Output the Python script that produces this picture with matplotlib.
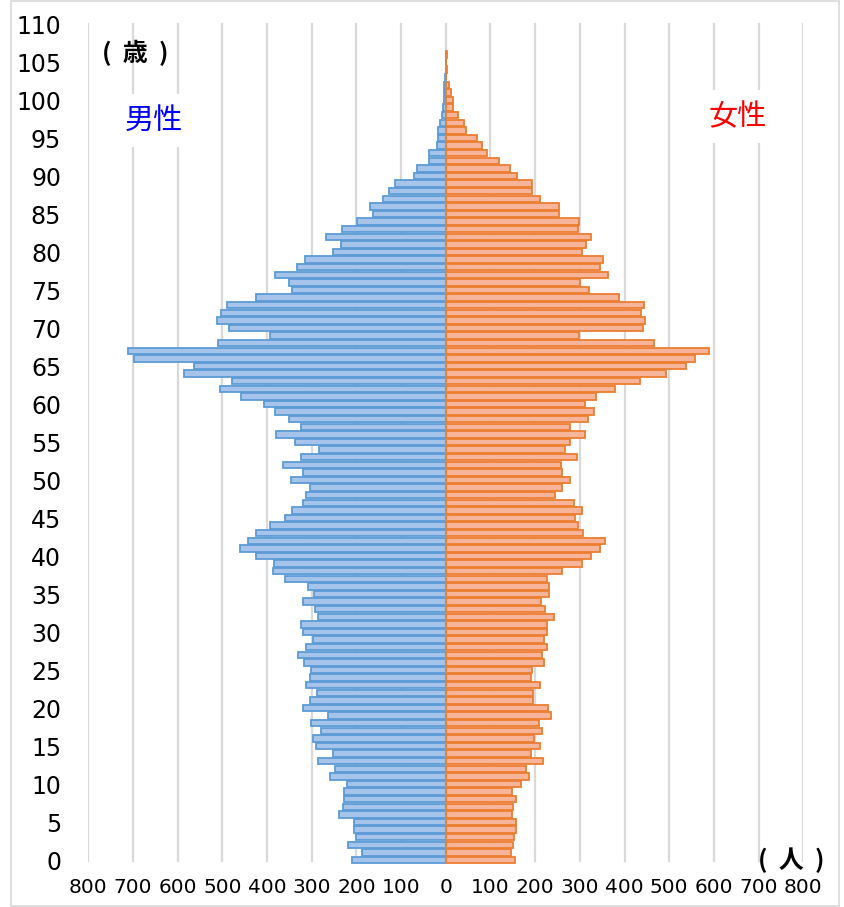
import matplotlib.pyplot as plt
import numpy as np
from matplotlib.patches import Rectangle

# population by single year of age, 0..106
ages = list(range(0, 107))
male = [209, 188, 218, 201, 205, 205, 239, 229, 227, 227,
        222, 259, 249, 287, 252, 290, 298, 280, 302, 263,
        319, 304, 289, 313, 305, 302, 317, 330, 313, 298,
        320, 324, 287, 293, 320, 294, 308, 360, 386, 384,
        425, 461, 442, 425, 393, 360, 345, 320, 313, 304,
        347, 319, 365, 324, 284, 338, 380, 324, 351, 383,
        406, 458, 505, 479, 585, 563, 697, 711, 509, 393,
        485, 511, 503, 490, 425, 345, 350, 382, 332, 315,
        252, 235, 269, 233, 199, 164, 169, 140, 128, 113,
        72, 65, 37, 38, 19, 17, 17, 13, 9, 7,
        5, 4, 3, 1, 0, 0, 0]
female = [155, 146, 151, 152, 157, 157, 149, 150, 157, 149,
          169, 186, 180, 217, 190, 211, 198, 216, 209, 236,
          228, 195, 195, 210, 191, 193, 220, 215, 226, 220,
          226, 226, 242, 222, 213, 232, 232, 226, 261, 304,
          325, 344, 357, 308, 295, 289, 304, 287, 245, 261,
          278, 260, 258, 293, 267, 277, 312, 278, 319, 332,
          312, 336, 378, 434, 493, 537, 557, 588, 467, 297,
          442, 446, 437, 444, 388, 321, 301, 364, 345, 351,
          304, 313, 325, 295, 297, 254, 254, 211, 192, 192,
          160, 144, 119, 92, 81, 69, 45, 41, 28, 17,
          16, 11, 7, 1, 2, 1, 2]

xticks = list(range(-800, 801, 100))
yticks = list(range(0, 111, 5))

cjk = ['Noto Sans CJK JP', 'DejaVu Sans']

fig = plt.figure(figsize=(8.45, 9.07), dpi=100)
# outer chart frame
fig.patches.append(Rectangle((11 / 845, 1 / 907), 828 / 845, 905 / 907,
                             transform=fig.transFigure, fill=False,
                             edgecolor='#d9d9d9', lw=1.2))

ax = fig.add_axes([88.3 / 845, (907 - 863.8) / 907, 715 / 845, 843.6 / 907])
ax.set_xlim(-800, 800)
ax.set_ylim(-0.5, 110.5)

for t in xticks:
    ax.plot([t, t], [-0.1, 110], color='#d9d9d9', lw=1.6, zorder=0)

ax.barh(ages, [-m for m in male], height=0.86, color='#a6c4ea',
        edgecolor='#5b9bd5', linewidth=1.3, zorder=2)
ax.barh(ages, female, height=0.86, color='#f6b59a',
        edgecolor='#ed7d31', linewidth=1.3, zorder=2)

ax.set_xticks(xticks)
ax.set_xticklabels([str(abs(t)) for t in xticks], fontsize=14.5)
ax.set_yticks(yticks)
ax.set_yticklabels([str(t) for t in yticks], fontsize=17)
ax.tick_params(axis='y', length=0, pad=19.5)
ax.tick_params(axis='x', length=0, pad=10)
for s in ax.spines.values():
    s.set_visible(False)

ax.text(-695, 106.2, '(  歳  )', family=cjk, fontsize=18, fontweight='bold',
        ha='center', va='center')
ax.text(-653, 97.3, '男性', family=cjk, fontsize=21, color='#0000ff',
        ha='center', va='center',
        bbox=dict(boxstyle='square,pad=0.4', fc='white', ec='none'), zorder=3)
ax.text(653, 97.8, '女性', family=cjk, fontsize=21, color='#ff0000',
        ha='center', va='center',
        bbox=dict(boxstyle='square,pad=0.4', fc='white', ec='none'), zorder=3)
ax.text(772, -0.1, '(  人  )', family=cjk, fontsize=18, fontweight='bold',
        ha='center', va='center', clip_on=False)

fig.savefig('out.png', dpi=100)
